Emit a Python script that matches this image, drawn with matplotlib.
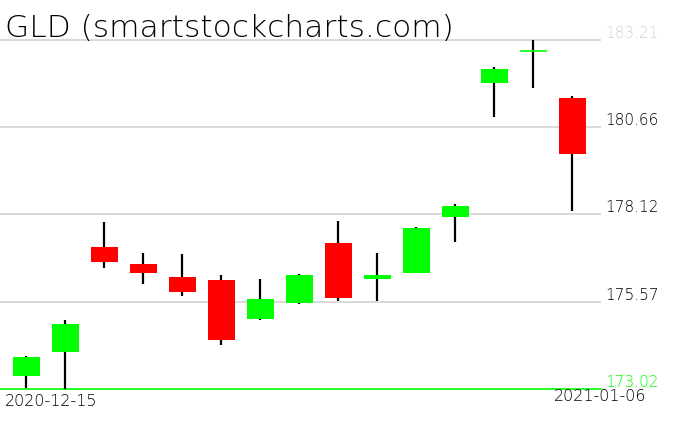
import numpy as np
import matplotlib.pyplot as plt
import matplotlib.transforms as mtransforms

# GLD daily candles, 2020-12-15 .. 2021-01-06
dates = ['2020-12-15', '2020-12-16', '2020-12-17', '2020-12-18', '2020-12-21',
         '2020-12-22', '2020-12-23', '2020-12-24', '2020-12-28', '2020-12-29',
         '2020-12-30', '2020-12-31', '2021-01-04', '2021-01-05', '2021-01-06']
opens = [173.41, 174.11, 177.17, 176.67, 176.29, 176.20, 175.07, 175.54,
         177.28, 176.24, 176.42, 178.05, 181.96, 182.88, 181.52]
highs = [173.98, 175.03, 177.90, 176.99, 176.96, 176.35, 176.23, 176.38,
         177.93, 176.99, 177.74, 178.42, 182.42, 183.21, 181.58]
lows = [173.04, 173.02, 176.56, 176.09, 175.74, 174.31, 175.04, 175.51,
        175.60, 175.60, 176.40, 177.32, 180.97, 181.82, 178.23]
closes = [173.95, 174.92, 176.74, 176.42, 175.86, 174.46, 175.65, 176.35,
          175.69, 176.35, 177.72, 178.36, 182.36, 182.88, 179.89]
grid_levels = [173.02, 175.57, 178.12, 180.66, 183.21]

W, H = 676, 431
fig = plt.figure(figsize=(W / 100, H / 100), dpi=100)
ax = fig.add_axes([0, (H - 390) / H, 601 / W, 390 / H])
ax.set_axis_off()

x = np.arange(len(dates))
o = np.array(opens)
c = np.array(closes)
up = c >= o
colors = np.where(up, '#00ff00', '#ff0000')

ax.vlines(x, lows, highs, color='black', linewidth=1.6, zorder=2)
body_h = np.abs(c - o)
ax.bar(x, body_h, bottom=np.minimum(o, c), width=0.69, color=colors, zorder=3)
doji = body_h < 0.02
ax.hlines(o[doji], x[doji] - 0.345, x[doji] + 0.345, color='#00ff00',
          linewidth=1.2, zorder=3)

lo = grid_levels[0]
step = (grid_levels[-1] - grid_levels[0]) / (4 * 87.25)
ax.set_ylim(lo, lo + 390 * step)
ax.set_xlim(-0.67, 14.74)

trans = mtransforms.blended_transform_factory(ax.transAxes, ax.transData)
for i, g in enumerate(grid_levels):
    if i == 0:
        ax.axhline(g, color='#00ff00', linewidth=1.2, zorder=1, clip_on=False)
        col = '#00ff00'
    else:
        ax.axhline(g, color='#d3d3d3', linewidth=1.2, zorder=1)
        col = '#d3d3d3' if i == len(grid_levels) - 1 else 'black'
    ax.text(605 / 601, g, f'{g:.2f}', transform=trans, ha='left', va='bottom',
            fontsize=11, color=col, fontweight='light', clip_on=False)

fig.text(5 / W, 1 - 37 / H, 'GLD (smartstockcharts.com)', fontsize=22.5,
         ha='left', va='baseline', color='black', fontweight='light')
fig.text(5 / W, 1 - 394 / H, dates[0], fontsize=11.5, ha='left', va='top',
         fontweight='light')
fig.text(646 / W, 1 - 389 / H, dates[-1], fontsize=11.5, ha='right', va='top',
         fontweight='light')

fig.savefig('out.png', dpi=100, facecolor='white')
